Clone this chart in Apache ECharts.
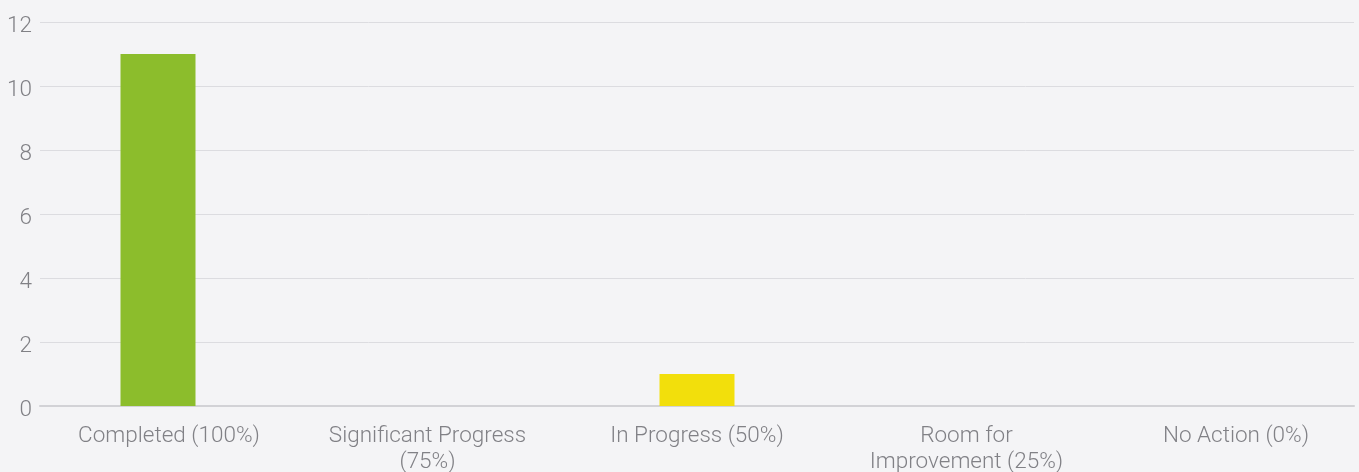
<!DOCTYPE html>
<html>
<head>
<meta charset="utf-8">
<script src="https://cdn.jsdelivr.net/npm/echarts@6/dist/echarts.min.js"></script>
<style>
  html, body { margin: 0; padding: 0; background: #f4f4f6; }
  #chart { width: 1359px; height: 472px; }
</style>
</head>
<body>
<div id="chart"></div>
<script>
const categories = ['Completed (100%)', 'Significant Progress (75%)', 'In Progress (50%)', 'Room for Improvement (25%)', 'No Action (0%)'];
const tickLabels = ['Completed (100%)', 'Significant Progress\n(75%)', 'In Progress (50%)', 'Room for\nImprovement (25%)', 'No Action (0%)'];
const yTickLabels = ['0', '2', '4', '6', '8', '10', '12'];
const counts = [11, 0, 1, 0, 0];
const barColors = ['#8cbd2c', '#8cbd2c', '#f2df0c', '#8cbd2c', '#8cbd2c'];

const chart = echarts.init(document.getElementById('chart'));
const fontFamily = 'Roboto, "Noto Sans", sans-serif';
const textColor = '#818186';
const baseText = { color: textColor, fontSize: 22.5, fontWeight: 300, fontFamily: fontFamily };
chart.setOption({
  backgroundColor: '#f4f4f6',
  animation: false,
  grid: [
    { left: 40, width: 1314, top: 22, bottom: 66, outerBoundsMode: 'none', containLabel: false },
    { left: 23.25, width: 1347.5, top: 22, bottom: 66, outerBoundsMode: 'none', containLabel: false }
  ],
  xAxis: [
    {
      gridIndex: 0, type: 'category', data: categories,
      axisLine: { show: true, lineStyle: { color: '#d2d2d6', width: 2 } },
      axisTick: { show: false }, axisLabel: { show: false }, splitLine: { show: false }
    },
    {
      gridIndex: 1, type: 'category', data: categories,
      axisLine: { show: false }, axisTick: { show: false },
      axisLabel: Object.assign({
        interval: 0, margin: 17, lineHeight: 26,
        formatter: (v, i) => i === 0 ? '{first|' + tickLabels[i] + '}' : tickLabels[i],
        rich: {
          first: Object.assign({ padding: [0, 0, 0, 22], lineHeight: 26 }, baseText)
        }
      }, baseText)
    }
  ],
  yAxis: [
    {
      gridIndex: 0, type: 'value', min: 0, max: 12, interval: 2,
      axisLine: { show: false }, axisTick: { show: false },
      axisLabel: Object.assign({
        margin: 8,
        formatter: (v, i) => '{v|' + yTickLabels[i] + '}',
        rich: {
          v: Object.assign({ padding: [8, 0, 0, 0] }, baseText)
        }
      }, baseText),
      splitLine: { lineStyle: { color: '#dcdce0', width: 1 } }
    },
    {
      gridIndex: 1, type: 'value', min: 0, max: 12, interval: 2, show: false,
      splitLine: { show: false }
    }
  ],
  series: [{
    type: 'bar', xAxisIndex: 1, yAxisIndex: 1, barWidth: 75,
    data: counts.map((v, i) => ({ value: v, itemStyle: { color: barColors[i], borderWidth: 0 } }))
  }]
});
</script>
</body>
</html>
